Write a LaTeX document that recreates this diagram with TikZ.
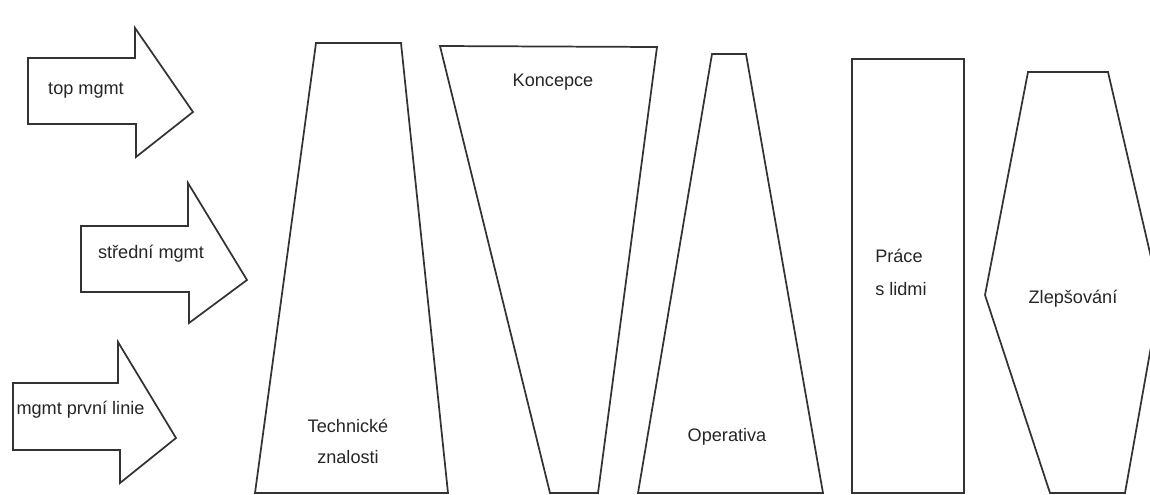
\documentclass[tikz,border=0pt]{standalone}
\usepackage{fontspec}
\setmainfont{Liberation Sans}
\begin{document}
\begin{tikzpicture}[x=0.75pt,y=-0.75pt,
  shapeline/.style={draw=black!80,line width=1.3pt,line join=miter},
  lbl/.style={inner sep=0pt,anchor=base,font=\fontsize{13.6}{16}\selectfont,text=black!85}]
\useasboundingbox (0,0) rectangle (1150,494);
\clip (0,0) rectangle (1150,494);
% arrows
\draw[shapeline] (28,58) -- (135,58) -- (135,28) -- (193,112) -- (136,157) -- (136,124) -- (28,124) -- cycle;
\draw[shapeline] (81,226) -- (188,226) -- (188,183) -- (247,280) -- (189,323) -- (189,292) -- (81,292) -- cycle;
\draw[shapeline] (13,383) -- (118,383) -- (118,342) -- (176,438) -- (120,483) -- (120,450) -- (13,450) -- cycle;
\node[lbl] (top) at (86,94) {top mgmt};
\node[lbl] (stred) at (151,258) {střední mgmt};
\node[lbl] (prvni) at (80.5,414) {mgmt první linie};
% trapezoids
\draw[shapeline] (316,43) -- (401,43) -- (448,493) -- (255,493) -- cycle;
\node[lbl] (tech1) at (348,432) {Technické};
\node[lbl] (tech2) at (348,463) {znalosti};
\draw[shapeline] (440,46) -- (657,47) -- (598,493) -- (550,493) -- cycle;
\node[lbl] (konc) at (553,86) {Koncepce};
\draw[shapeline] (712,54) -- (746,54) -- (823,493) -- (638,493) -- cycle;
\node[lbl] (oper) at (727,441) {Operativa};
% rectangle
\draw[shapeline] (852,59) rectangle (964,493);
\node[lbl,anchor=base west] (prace1) at (875,262) {Práce};
\node[lbl,anchor=base west] (prace2) at (875,295) {s lidmi};
% hexagon
\draw[shapeline] (1028,72) -- (1108,72) -- (1160,296) -- (1125,493) -- (1050,493) -- (985,295) -- cycle;
\node[lbl] (zlep) at (1073,303) {Zlepšování};
\end{tikzpicture}
\end{document}
